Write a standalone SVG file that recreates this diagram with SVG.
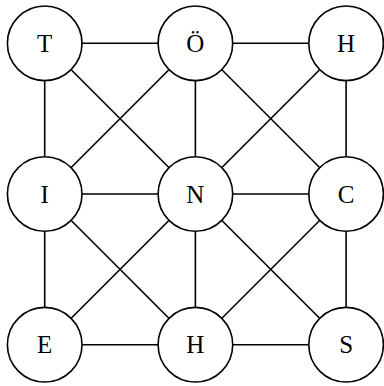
<svg xmlns="http://www.w3.org/2000/svg" width="384" height="386" viewBox="0 0 384 386">
<style>
.n circle{fill:#fff;stroke:#000;stroke-width:1.6}
.n text{font-family:"Liberation Serif","DejaVu Serif",serif;font-size:25px;text-anchor:middle;fill:#000}
#edges line{stroke:#000;stroke-width:1.6}
</style>
<rect width="384" height="386" fill="#fff"/>
<g id="edges">
<line x1="44.7" y1="43.3" x2="195.4" y2="43.3"/>
<line x1="195.4" y1="43.3" x2="346.1" y2="43.3"/>
<line x1="44.7" y1="194" x2="195.4" y2="194"/>
<line x1="195.4" y1="194" x2="346.1" y2="194"/>
<line x1="44.7" y1="344.7" x2="195.4" y2="344.7"/>
<line x1="195.4" y1="344.7" x2="346.1" y2="344.7"/>
<line x1="44.7" y1="43.3" x2="44.7" y2="194"/>
<line x1="44.7" y1="194" x2="44.7" y2="344.7"/>
<line x1="195.4" y1="43.3" x2="195.4" y2="194"/>
<line x1="195.4" y1="194" x2="195.4" y2="344.7"/>
<line x1="346.1" y1="43.3" x2="346.1" y2="194"/>
<line x1="346.1" y1="194" x2="346.1" y2="344.7"/>
<line x1="44.7" y1="43.3" x2="195.4" y2="194"/>
<line x1="195.4" y1="43.3" x2="44.7" y2="194"/>
<line x1="195.4" y1="43.3" x2="346.1" y2="194"/>
<line x1="346.1" y1="43.3" x2="195.4" y2="194"/>
<line x1="44.7" y1="194" x2="195.4" y2="344.7"/>
<line x1="195.4" y1="194" x2="44.7" y2="344.7"/>
<line x1="195.4" y1="194" x2="346.1" y2="344.7"/>
<line x1="346.1" y1="194" x2="195.4" y2="344.7"/>
</g>
<g id="T" class="n"><circle cx="44.7" cy="43.3" r="37.3"/><text x="44.7" y="51.8">T</text></g>
<g id="O" class="n"><circle cx="195.4" cy="43.3" r="37.3"/><text x="195.4" y="51.8">Ö</text></g>
<g id="H1" class="n"><circle cx="346.1" cy="43.3" r="37.3"/><text x="346.1" y="51.8">H</text></g>
<g id="I" class="n"><circle cx="44.7" cy="194" r="37.3"/><text x="44.7" y="202.5">I</text></g>
<g id="N" class="n"><circle cx="195.4" cy="194" r="37.3"/><text x="195.4" y="202.5">N</text></g>
<g id="C" class="n"><circle cx="346.1" cy="194" r="37.3"/><text x="346.1" y="202.5">C</text></g>
<g id="E" class="n"><circle cx="44.7" cy="344.7" r="37.3"/><text x="44.7" y="353.2">E</text></g>
<g id="H2" class="n"><circle cx="195.4" cy="344.7" r="37.3"/><text x="195.4" y="353.2">H</text></g>
<g id="S" class="n"><circle cx="346.1" cy="344.7" r="37.3"/><text x="346.1" y="353.2">S</text></g>
</svg>
